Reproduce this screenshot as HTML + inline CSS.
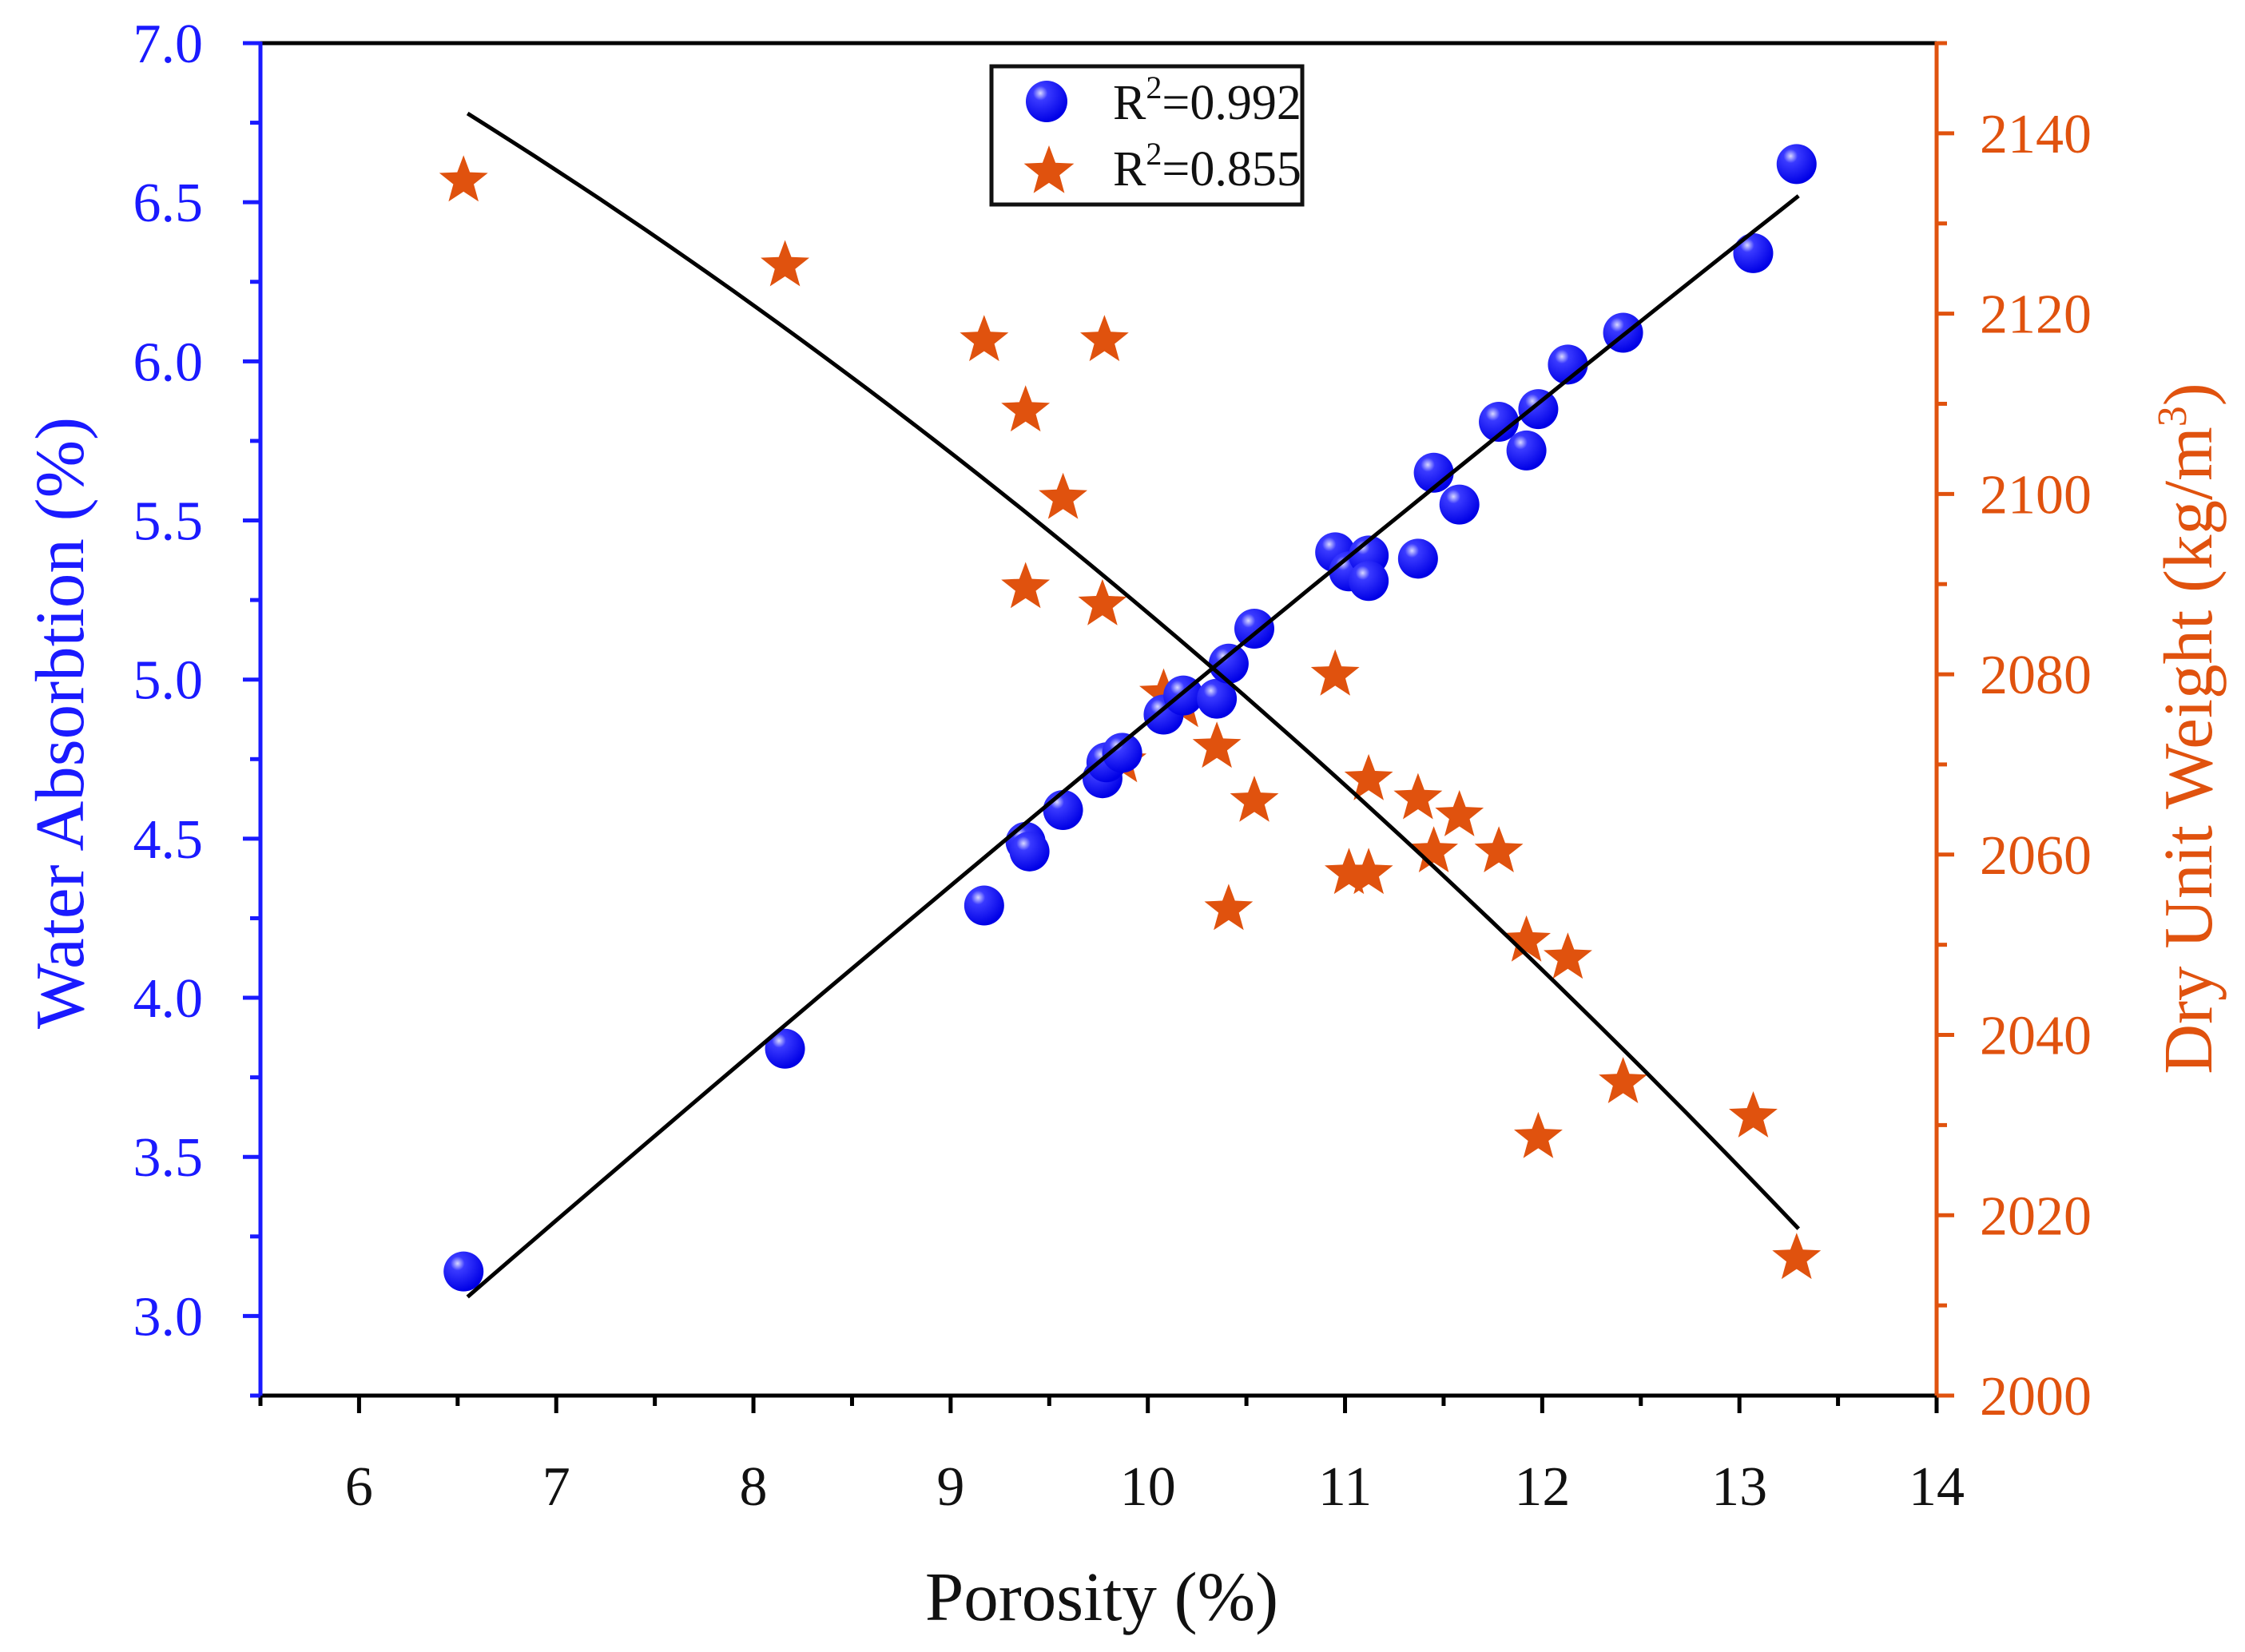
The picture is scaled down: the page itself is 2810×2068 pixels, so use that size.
<!DOCTYPE html>
<html><head><meta charset="utf-8"><style>
html,body{margin:0;padding:0;background:#fff;}
svg{display:block;font-family:"Liberation Serif",serif;}
</style></head><body>
<svg id="chart" width="2810" height="2068" viewBox="0 0 2810 2068" xmlns="http://www.w3.org/2000/svg">
<defs>
<radialGradient id="ball" cx="0.35" cy="0.3" r="0.7">
<stop offset="0" stop-color="#d8d8ff"/><stop offset="0.25" stop-color="#3a3aff"/><stop offset="1" stop-color="#0000e6"/>
</radialGradient>
</defs>
<g id="grid-layer"></g>
<g id="marks"></g>
<g id="legend">
<rect x="1241" y="83" width="389" height="173" fill="#fff" stroke="#111" stroke-width="5"/>
<circle cx="1310" cy="127" r="26" fill="url(#ball)"/>
<text x="1393" y="149" font-size="62" fill="#111">R<tspan dy="-26" font-size="40">2</tspan><tspan dy="26">=0.992</tspan></text>
<polygon id="legstar" fill="#e0520e"/>
<text x="1393" y="232" font-size="62" fill="#111">R<tspan dy="-26" font-size="40">2</tspan><tspan dy="26">=0.855</tspan></text>
</g>
</svg>
<script>
// data
const porosityBlue = [6.53,8.16,9.17,9.38,9.40,9.57,9.77,9.79,9.87,10.08,10.18,10.35,10.41,10.54,10.95,11.02,11.12,11.12,11.37,11.45,11.58,11.78,11.92,11.98,12.13,12.41,13.07,13.29];
const waterAbsorption = [3.14,3.84,4.29,4.49,4.46,4.59,4.69,4.74,4.77,4.89,4.95,4.94,5.05,5.16,5.40,5.34,5.39,5.31,5.38,5.65,5.55,5.81,5.72,5.85,5.99,6.09,6.34,6.62];
const porosityStar = [6.53,8.16,9.17,9.78,9.38,9.57,9.38,9.77,9.87,10.08,10.18,10.35,10.54,10.41,10.95,11.12,11.02,11.12,11.37,11.58,11.45,11.78,11.92,12.13,12.41,11.98,13.07,13.29];
const dryUnitWeight = [2134.9,2125.5,2117.2,2117.2,2109.4,2099.7,2089.8,2087.9,2070.5,2078.0,2076.6,2072.1,2066.1,2054.1,2080.1,2068.5,2058.1,2058.1,2066.4,2064.5,2060.5,2060.5,2050.6,2048.7,2034.9,2028.8,2031.1,2015.4];
const fitWaterX = [6.55,10.2,13.3];
const fitWaterY = [3.06,4.97,6.52];
const fitDryX = [6.55,10.36,13.3];
const fitDryY = [2142.2,2080.1,2018.5];
const xTicks = [6,7,8,9,10,11,12,13,14];
const yLeftTicks = ["3.0","3.5","4.0","4.5","5.0","5.5","6.0","6.5","7.0"];
const yRightTicks = [2000,2020,2040,2060,2080,2100,2120,2140];

const L=326,R=2424,T=54,B=1747;
const X=v=>L+(v-5.5)/(14-5.5)*(R-L);
const YL=v=>B-(v-2.75)/(7-2.75)*(B-T);
const YR=v=>B-(v-2000)/(2150-2000)*(B-T);
const NS="http://www.w3.org/2000/svg";
const svg=document.getElementById('chart');
const g=document.getElementById('grid-layer');
const m=document.getElementById('marks');
function mk(tag,attrs,parent){const e=document.createElementNS(NS,tag);for(const k in attrs)e.setAttribute(k,attrs[k]);(parent||g).appendChild(e);return e;}
const BLUE="#1a1aff",OR="#e0520e";
function starPts(cx,cy,r){let p=[];for(let i=0;i<10;i++){const a=-Math.PI/2+i*Math.PI/5;const rr=i%2?r*0.42:r;p.push((cx+rr*Math.cos(a)).toFixed(1)+","+(cy+rr*Math.sin(a)).toFixed(1));}return p.join(" ");}
document.getElementById('legstar').setAttribute('points',starPts(1313,215,33));

// axes
let e;
e=mk('line',{x1:L,y1:T,x2:R,y2:T,stroke:"#000","stroke-width":5});


e=mk('line',{x1:L-2,y1:B,x2:R,y2:B,stroke:"#000","stroke-width":5});


e=mk('line',{x1:L,y1:T-2,x2:L,y2:B+2,stroke:BLUE,"stroke-width":5});


e=mk('line',{x1:R,y1:T-2,x2:R,y2:B+2,stroke:OR,"stroke-width":5});



// x ticks
for(let v=5.5;v<=14.001;v+=0.5){const maj=Math.abs(v-Math.round(v))<1e-6;
 e=mk('line',{x1:X(v),y1:B,x2:X(v),y2:B+(maj?22:13),stroke:"#000","stroke-width":5});
 
 }
xTicks.forEach(v=>{e=mk('text',{x:X(v),y:1884,"font-size":70,"text-anchor":"middle",fill:"#111"});e.textContent=v;
 
 });
// left ticks
for(let v=2.75;v<=7.001;v+=0.25){const maj=Math.abs(v*2-Math.round(v*2))<1e-6;
 e=mk('line',{x1:L,y1:YL(v),x2:L-(maj?22:13),y2:YL(v),stroke:BLUE,"stroke-width":5});
 
 }
yLeftTicks.forEach(s=>{e=mk('text',{x:254,y:YL(parseFloat(s))+24,"font-size":70,"text-anchor":"end",fill:BLUE});e.textContent=s;
 
 });
// right ticks
for(let v=2000;v<=2150;v+=10){const maj=v%20===0;
 e=mk('line',{x1:R,y1:YR(v),x2:R+(maj?22:13),y2:YR(v),stroke:OR,"stroke-width":5});
 
 }
yRightTicks.forEach(v=>{e=mk('text',{x:2478,y:YR(v)+24,"font-size":70,fill:OR});e.textContent=v;
 
 });
// titles
e=mk('text',{x:1379,y:2028,"font-size":87,"text-anchor":"middle",fill:"#111"});e.textContent="Porosity (%)";


e=mk('text',{x:0,y:0,"font-size":87,"text-anchor":"middle",fill:BLUE,transform:"translate(104,905) rotate(-90)"});e.textContent="Water Absorbtion (%)";


e=mk('text',{x:0,y:0,"font-size":87,"text-anchor":"middle",fill:OR,transform:"translate(2768,912) rotate(-90)"});
e.innerHTML='Dry Unit Weight (kg/m<tspan dy="-32" font-size="52">3</tspan><tspan dy="32">)</tspan>';



// fit curves (quadratic through anchors)
function quad(xs,ys,x){let s=0;for(let i=0;i<3;i++){let t=ys[i];for(let j=0;j<3;j++)if(j!==i)t*=(x-xs[j])/(xs[i]-xs[j]);s+=t;}return s;}
function curve(xs,ys,Y){let d="";for(let k=0;k<=60;k++){const x=xs[0]+(xs[2]-xs[0])*k/60;d+=(k?"L":"M")+X(x).toFixed(1)+","+Y(quad(xs,ys,x)).toFixed(1);}return d;}

// stars
porosityStar.forEach((x,i)=>{e=mk('polygon',{points:starPts(X(x),YR(dryUnitWeight[i])+2,32),fill:OR},m);
 
 });
// balls
porosityBlue.forEach((x,i)=>{e=mk('circle',{cx:X(x),cy:YL(waterAbsorption[i]),r:25,fill:"url(#ball)"},m);
 
 });
e=mk('path',{d:curve(fitDryX,fitDryY,YR),fill:"none",stroke:"#000","stroke-width":5},m);


e=mk('path',{d:curve(fitWaterX,fitWaterY,YL),fill:"none",stroke:"#000","stroke-width":5},m);


svg.appendChild(document.getElementById('legend'));
</script>
</body></html>
